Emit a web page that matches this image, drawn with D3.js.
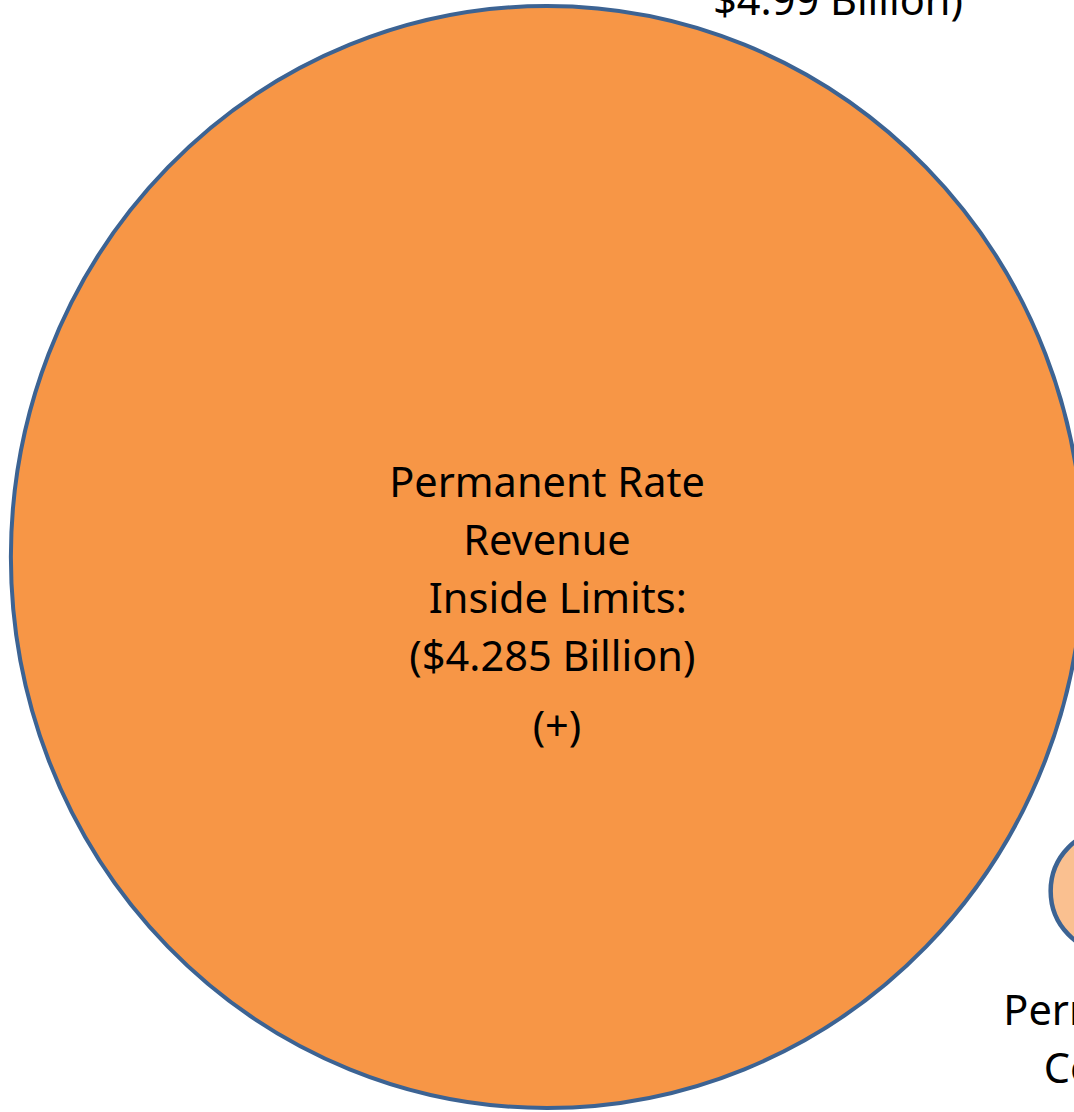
<!DOCTYPE html>
<html>
<head>
<meta charset="utf-8">
<script src="https://cdn.jsdelivr.net/npm/d3@7"></script>
<style>
  html, body { margin: 0; padding: 0; background: #fff; overflow: hidden; }
  svg { display: block; }
  text { font-family: "Noto Sans", "Open Sans", sans-serif; fill: #000; white-space: pre; }
</style>
</head>
<body>
<div id="chart"></div>
<script>
// Bubbles (values in $ billion) and their label lines
const names  = ["inside", "collected", "total"];
const values = [4.285, 0.0525, 4.99];
const labels = [
  ["Permanent Rate", "Revenue", "  Inside Limits:", " ($4.285 Billion)"],
  ["Permanent", "Cost of", "(Less"],
  ["Total Revenue", "(", "$4.99 Billion)"]
];
const signs = ["(+)", null, null];

const width = 1074, height = 1112;
const svg = d3.select("#chart").append("svg")
  .attr("width", width).attr("height", height);

// radius from area (vertical radius); picture is slightly squeezed horizontally
const r = d3.scaleSqrt().domain([0, values[0]]).range([0, 551]);
const squeeze = 0.973;

// layout of the cut-off slide
const layout = {
  inside:    { cx: 547,  cy: 557, fill: "#F79646", labelX: 547,  labelY: 497 },
  collected: { cx: 1110, cy: 891, fill: "#FAC090", labelX: 1112, labelY: 1025 },
  total:     { cx: null, cy: null, fill: null,      labelX: 838,  labelY: 15 }
};

const data = names.map((n, i) => ({ name: n, value: values[i], lines: labels[i], sign: signs[i], ...layout[n] }));

svg.selectAll("ellipse.bubble")
  .data(data.filter(d => d.fill))
  .join("ellipse")
  .attr("class", "bubble")
  .attr("cx", d => d.cx)
  .attr("cy", d => d.cy)
  .attr("rx", d => r(d.value) * squeeze)
  .attr("ry", d => r(d.value))
  .attr("fill", d => d.fill)
  .attr("stroke", "#3C6393")
  .attr("stroke-width", d => d.name === "inside" ? 4 : 4.5);

const lineH = 58;
const fontSize = "41.5px";
data.forEach(d => {
  // the total label sits above with its last line at labelY
  const y0 = d.name === "total" ? d.labelY - (d.lines.length - 1) * lineH : d.labelY;
  const t = svg.append("text")
    .attr("text-anchor", "middle")
    .style("font-size", fontSize);
  d.lines.forEach((ln, j) => {
    t.append("tspan")
      .attr("x", d.labelX)
      .attr("y", y0 + j * lineH)
      .style("font-style", d.name === "collected" && j === 2 ? "italic" : null)
      .text(ln);
  });
  if (d.sign) {
    svg.append("text")
      .attr("x", d.labelX + 10)
      .attr("y", y0 + d.lines.length * lineH + 12)
      .attr("text-anchor", "middle")
      .style("font-size", fontSize)
      .text(d.sign);
  }
});
</script>
</body>
</html>
